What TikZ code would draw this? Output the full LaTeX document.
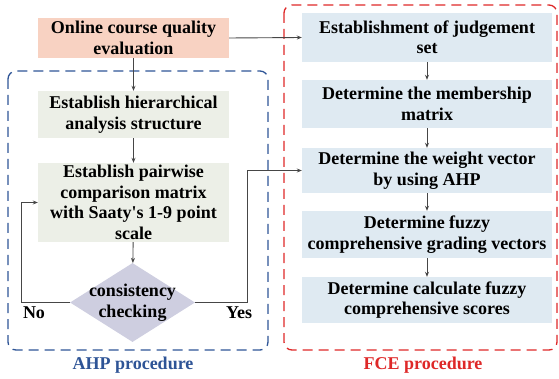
\documentclass[tikz,border=0pt]{standalone}
\usepackage{fontspec}
\setmainfont{Liberation Serif}
\usetikzlibrary{shapes.geometric,arrows.meta}
\definecolor{evpink}{RGB}{248,210,194}
\definecolor{ahpfill}{RGB}{236,239,231}
\definecolor{fcefill}{RGB}{223,234,242}
\definecolor{chkfill}{RGB}{206,206,224}
\definecolor{ahpblue}{RGB}{46,84,150}
\definecolor{fcered}{RGB}{222,40,40}
\definecolor{flowgray}{RGB}{70,70,70}

\begin{document}
\begin{tikzpicture}[x=1pt,y=-1pt,
  txt/.style={font=\bfseries\fontsize{18}{20.5}\selectfont},
  stepbox/.style={txt,align=center,inner sep=0pt,minimum width=#1},
  stepbox/.default=191,
  flow/.style={flowgray,line width=0.9pt,-{Stealth[length=5pt,width=4pt]}},
  procbox/.style={dashed,dash pattern=on 10pt off 6pt,line width=1.3pt,rounded corners=8pt}]
  \useasboundingbox (0,0) rectangle (559,379);
  % frames
  \draw[procbox,ahpblue] (8,71) rectangle (268,350);
  \draw[procbox,fcered] (284,5) rectangle (557,350);
  % AHP side
  \node[stepbox,fill=evpink,minimum height=40] (eval) at (133.5,38) {Online course quality\\evaluation};
  \node[stepbox,fill=ahpfill,minimum height=47] (hier) at (133.5,114.5) {Establish hierarchical\\analysis structure};
  \node[stepbox,fill=ahpfill,minimum height=79] (pair) at (133.5,202.5) {Establish pairwise\\comparison matrix\\with Saaty\textquotesingle s 1-9 point\\scale};
  \node[txt,diamond,fill=chkfill,inner sep=0pt,minimum width=125,minimum height=79,align=center] (chk) at (132.5,302.5)
    {\makebox[0pt]{consistency}\\\makebox[0pt]{checking}};
  % FCE side
  \node[stepbox=250,fill=fcefill,minimum height=49] (judge) at (427,37.5) {Establishment of judgement\\set};
  \node[stepbox=250,fill=fcefill,minimum height=48] (member) at (427,104) {Determine the membership\\matrix};
  \node[stepbox=250,fill=fcefill,minimum height=45] (weight) at (427,170.5) {Determine the weight vector\\by using AHP};
  \node[stepbox=250,fill=fcefill,minimum height=47] (grading) at (427,234.5) {Determine fuzzy\\comprehensive grading vectors};
  \node[stepbox=250,fill=fcefill,minimum height=46] (scores) at (427,300) {Determine calculate fuzzy\\comprehensive scores};
  % labels
  \node[txt] (no) at (34,313) {No};
  \node[txt] (yes) at (239,313) {Yes};
  \node[txt,text=ahpblue] (ahplab) at (133,365) {AHP procedure};
  \node[txt,text=fcered] (fcelab) at (423,365) {FCE procedure};
  % connectors
  \draw[flow] (eval) -- (hier);
  \draw[flow] (hier) -- (pair);
  \draw[flow] (pair) -- (chk);
  \draw[flow] (chk.west) -- ++(-48,0) |- (pair.west);
  \draw[flow] (chk.east) -- ++(52,0) |- (weight.west);
  \draw[flow] (eval.east) -- (judge.west);
  \draw[flow] (judge) -- (member);
  \draw[flow] (member) -- (weight);
  \draw[flow] (weight) -- (grading);
  \draw[flow] (grading) -- (scores);
\end{tikzpicture}
\end{document}
